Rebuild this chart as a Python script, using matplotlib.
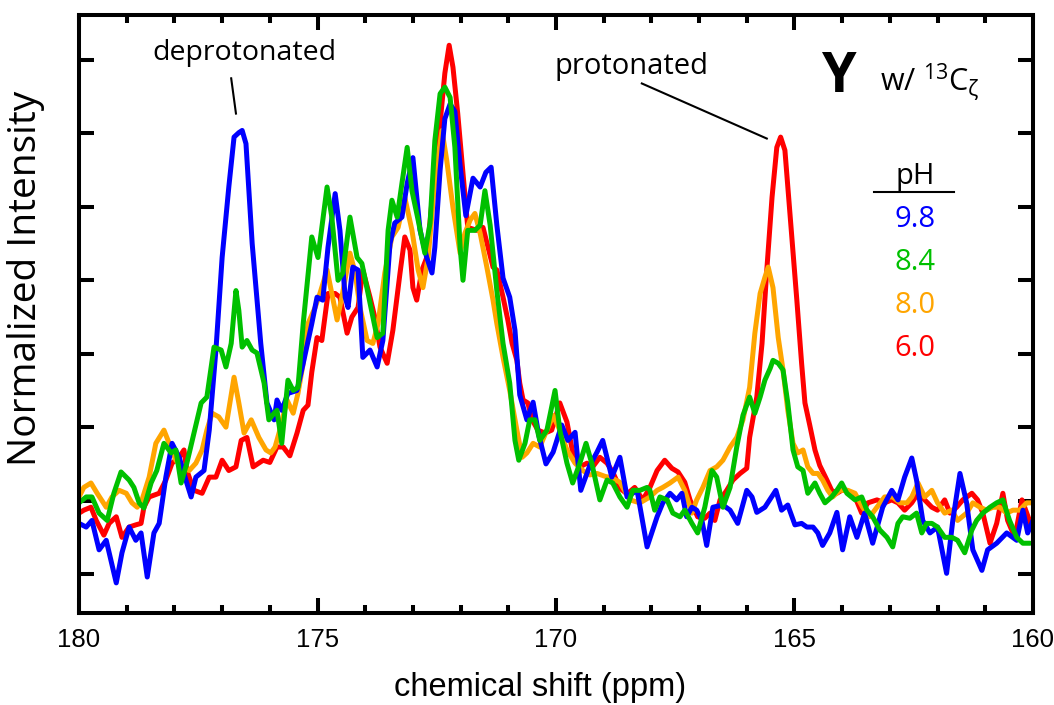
import matplotlib
matplotlib.use('Agg')
import matplotlib.pyplot as plt
from matplotlib import font_manager
from matplotlib.ticker import MultipleLocator

# 폰트 : 좁은 글꼴이 있으면 눈금 글자에 사용
names = {f.name for f in font_manager.fontManager.ttflist}
narrow = 'Liberation Sans Narrow' if 'Liberation Sans Narrow' in names else 'Liberation Sans'
plt.rcParams['font.family'] = ['Open Sans', 'DejaVu Sans']
plt.rcParams['mathtext.fontset'] = 'custom'
plt.rcParams['mathtext.rm'] = 'Open Sans'

# pH 9.8 (blue)
ph98_ppm = [180.00, 179.85, 179.73, 179.58, 179.43, 179.22, 179.10, 178.95, 178.81, 178.70,
            178.57, 178.43, 178.32, 178.18, 178.05, 177.90, 177.76, 177.65, 177.55, 177.38,
            177.27, 177.13, 177.00, 176.86, 176.75, 176.65, 176.58, 176.50, 176.37, 176.19,
            176.06, 175.91, 175.85, 175.75, 175.62, 175.43, 175.30, 175.12, 175.01, 174.89,
            174.78, 174.63, 174.53, 174.42, 174.36, 174.26, 174.15, 174.05, 173.90, 173.75,
            173.63, 173.48, 173.38, 173.23, 173.12, 173.00, 172.85, 172.71, 172.60, 172.54,
            172.43, 172.33, 172.22, 172.12, 172.01, 171.89, 171.74, 171.59, 171.47, 171.36,
            171.24, 171.11, 170.97, 170.86, 170.76, 170.61, 170.48, 170.36, 170.21, 170.06,
            169.88, 169.75, 169.60, 169.48, 169.29, 169.14, 169.02, 168.83, 168.66, 168.51,
            168.30, 168.09, 167.88, 167.76, 167.61, 167.47, 167.36, 167.26, 167.15, 167.05,
            166.94, 166.84, 166.71, 166.50, 166.35, 166.19, 166.00, 165.89, 165.79, 165.62,
            165.39, 165.27, 165.14, 164.99, 164.85, 164.74, 164.61, 164.51, 164.41, 164.26,
            164.11, 163.99, 163.84, 163.69, 163.53, 163.36, 163.15, 162.96, 162.83, 162.69,
            162.54, 162.44, 162.31, 162.16, 162.00, 161.81, 161.68, 161.53, 161.39, 161.26,
            161.07, 160.95, 160.76, 160.55, 160.34, 160.21, 160.11, 160.00]
ph98_int = [0.69, 0.64, 0.73, 0.33, 0.46, -0.12, 0.29, 0.64, 0.46, 0.56,
            -0.04, 0.56, 0.69, 1.32, 1.78, 1.59, 1.28, 1.05, 1.32, 1.41,
            1.96, 3.05, 4.31, 5.27, 5.95, 6.01, 6.04, 5.86, 4.50, 3.14,
            2.33, 2.10, 2.37, 2.23, 2.46, 2.50, 2.87, 3.41, 3.77, 3.73,
            4.45, 5.18, 4.68, 3.77, 3.63, 4.18, 4.14, 2.95, 3.05, 2.82,
            3.18, 4.50, 4.78, 4.86, 5.32, 5.67, 4.68, 4.31, 4.10, 4.45,
            5.50, 6.20, 6.40, 6.30, 5.56, 4.88, 5.39, 5.27, 5.47, 5.54,
            4.75, 4.03, 3.77, 3.32, 2.44, 2.10, 2.34, 1.89, 1.50, 1.66,
            2.03, 1.82, 1.93, 1.14, 1.48, 1.66, 1.82, 1.32, 1.59, 1.05,
            1.14, 0.37, 0.78, 0.97, 1.10, 1.01, 1.10, 0.78, 0.91, 0.87,
            0.73, 0.39, 0.91, 0.94, 0.87, 0.69, 1.14, 1.05, 0.84, 0.91,
            1.14, 0.87, 0.94, 0.67, 0.69, 0.64, 0.64, 0.56, 0.39, 0.56,
            0.84, 0.33, 0.78, 0.50, 0.83, 0.42, 0.91, 1.14, 1.01, 1.32,
            1.58, 1.28, 0.73, 0.56, 0.64, 0.01, 0.73, 1.37, 0.97, 0.33,
            0.05, 0.33, 0.42, 0.56, 0.46, 0.87, 0.56, 0.73]

# pH 6.0 (red)
ph60_ppm = [180.00, 179.90, 179.75, 179.64, 179.48, 179.37, 179.22, 179.10, 178.95, 178.81,
            178.70, 178.64, 178.53, 178.32, 178.18, 178.05, 177.90, 177.80, 177.74, 177.59,
            177.42, 177.27, 177.13, 177.00, 176.86, 176.71, 176.60, 176.48, 176.35, 176.14,
            176.00, 175.85, 175.72, 175.58, 175.43, 175.30, 175.20, 175.12, 175.01, 174.91,
            174.78, 174.63, 174.53, 174.38, 174.28, 174.15, 174.05, 173.90, 173.80, 173.69,
            173.54, 173.42, 173.27, 173.17, 173.06, 173.00, 172.92, 172.81, 172.71, 172.58,
            172.43, 172.33, 172.24, 172.16, 172.06, 171.95, 171.85, 171.66, 171.53, 171.32,
            171.24, 171.11, 171.01, 170.92, 170.82, 170.76, 170.69, 170.59, 170.50, 170.38,
            170.23, 170.09, 169.92, 169.77, 169.65, 169.50, 169.35, 169.23, 169.08, 168.93,
            168.81, 168.66, 168.51, 168.35, 168.18, 168.03, 167.88, 167.72, 167.57, 167.44,
            167.30, 167.19, 167.03, 166.88, 166.77, 166.67, 166.56, 166.42, 166.29, 166.14,
            166.00, 165.94, 165.79, 165.68, 165.58, 165.47, 165.37, 165.29, 165.20, 165.10,
            164.95, 164.85, 164.78, 164.68, 164.57, 164.47, 164.32, 164.22, 164.11, 164.01,
            163.90, 163.73, 163.59, 163.46, 163.27, 163.11, 162.96, 162.83, 162.69, 162.54,
            162.41, 162.27, 162.12, 162.00, 161.85, 161.74, 161.60, 161.47, 161.28, 161.16,
            161.05, 160.90, 160.76, 160.63, 160.53, 160.38, 160.23, 160.13, 160.00]
ph60_int = [0.83, 0.87, 0.91, 0.73, 0.53, 0.69, 0.78, 0.50, 0.64, 0.67,
            0.69, 0.91, 1.05, 1.10, 1.28, 1.51, 1.59, 1.69, 1.41, 1.14,
            1.10, 1.32, 1.32, 1.55, 1.41, 1.46, 1.82, 1.86, 1.46, 1.55,
            1.52, 1.73, 1.73, 1.61, 1.92, 2.23, 2.30, 2.75, 3.22, 3.18,
            3.82, 3.82, 3.77, 3.28, 3.50, 3.63, 4.14, 3.77, 3.50, 3.09,
            2.87, 3.32, 4.10, 4.59, 4.41, 3.90, 3.73, 4.14, 4.31, 5.22,
            6.14, 6.82, 7.20, 6.90, 6.27, 5.46, 4.72, 4.68, 4.72, 4.18,
            4.14, 3.77, 3.46, 3.14, 2.91, 2.60, 2.37, 2.33, 2.10, 1.96,
            1.92, 1.96, 2.33, 2.07, 1.66, 1.46, 1.51, 1.46, 1.59, 1.51,
            1.39, 1.17, 1.09, 1.18, 1.01, 1.18, 1.41, 1.55, 1.44, 1.39,
            1.25, 1.01, 0.78, 0.76, 0.83, 0.73, 1.01, 1.14, 1.28, 1.37,
            1.44, 1.86, 2.41, 3.14, 4.14, 5.13, 5.81, 5.95, 5.77, 4.95,
            3.73, 2.87, 2.33, 2.03, 1.69, 1.48, 1.28, 1.14, 1.10, 1.14,
            1.14, 1.05, 0.83, 0.97, 1.01, 0.97, 1.01, 0.97, 0.87, 0.97,
            1.10, 1.01, 0.91, 0.87, 1.01, 0.83, 0.91, 1.01, 1.10, 1.01,
            0.83, 0.42, 0.69, 1.10, 0.73, 0.50, 1.01, 0.83, 0.60]

# pH 8.0 (orange)
ph80_ppm = [180.00, 179.90, 179.75, 179.62, 179.43, 179.31, 179.16, 179.01, 178.89, 178.78,
            178.68, 178.53, 178.39, 178.22, 178.11, 177.97, 177.84, 177.69, 177.55, 177.42,
            177.32, 177.21, 177.07, 176.92, 176.75, 176.65, 176.54, 176.39, 176.23, 176.08,
            175.98, 175.89, 175.79, 175.64, 175.51, 175.41, 175.30, 175.20, 175.05, 174.95,
            174.80, 174.70, 174.59, 174.49, 174.32, 174.21, 174.11, 173.96, 173.84, 173.73,
            173.59, 173.44, 173.31, 173.17, 173.02, 172.89, 172.79, 172.68, 172.54, 172.39,
            172.29, 172.16, 172.01, 171.91, 171.80, 171.70, 171.59, 171.45, 171.32, 171.24,
            171.11, 170.97, 170.82, 170.71, 170.61, 170.48, 170.34, 170.19, 170.06, 169.92,
            169.77, 169.60, 169.44, 169.29, 169.14, 168.97, 168.83, 168.66, 168.45, 168.24,
            168.03, 167.88, 167.76, 167.61, 167.44, 167.30, 167.15, 167.05, 166.92, 166.77,
            166.63, 166.50, 166.35, 166.21, 166.08, 165.94, 165.83, 165.72, 165.62, 165.55,
            165.45, 165.34, 165.24, 165.14, 165.03, 164.93, 164.82, 164.72, 164.61, 164.51,
            164.41, 164.30, 164.20, 164.05, 163.88, 163.73, 163.57, 163.42, 163.27, 163.11,
            162.94, 162.79, 162.64, 162.54, 162.41, 162.27, 162.12, 162.00, 161.85, 161.70,
            161.58, 161.39, 161.26, 161.11, 160.97, 160.84, 160.70, 160.55, 160.42, 160.28,
            160.13, 160.00]
ph80_int = [1.05, 1.18, 1.24, 1.10, 0.91, 1.05, 1.14, 1.10, 0.97, 0.91,
            1.01, 1.32, 1.78, 1.96, 1.78, 1.55, 1.46, 1.41, 1.51, 1.69,
            1.96, 2.19, 2.14, 2.00, 2.68, 2.33, 1.92, 2.10, 1.86, 1.69,
            1.65, 1.73, 1.96, 2.37, 2.19, 2.46, 2.87, 3.41, 3.63, 3.82,
            4.14, 3.82, 3.46, 3.77, 4.37, 4.10, 3.63, 3.18, 3.14, 3.41,
            4.10, 4.59, 4.72, 5.13, 4.68, 4.14, 3.90, 4.31, 5.36, 6.04,
            5.63, 4.99, 4.37, 4.64, 4.82, 4.91, 4.64, 4.18, 3.73, 3.41,
            2.95, 2.50, 1.96, 1.59, 1.65, 1.78, 1.73, 1.96, 2.16, 1.96,
            1.69, 1.51, 1.41, 1.35, 1.37, 1.33, 1.31, 1.25, 1.01, 0.97,
            1.05, 1.14, 1.18, 1.24, 1.32, 1.14, 0.83, 1.01, 1.18, 1.41,
            1.46, 1.55, 1.73, 1.86, 2.10, 2.54, 3.28, 3.82, 4.04, 4.18,
            3.90, 3.22, 2.78, 2.23, 1.78, 1.65, 1.69, 1.46, 1.37, 1.37,
            1.28, 1.14, 1.05, 1.14, 1.14, 1.10, 0.91, 0.78, 0.91, 1.05,
            1.05, 0.97, 0.97, 1.05, 1.24, 1.05, 1.14, 0.97, 0.83, 0.87,
            0.73, 0.83, 0.97, 0.91, 0.87, 0.91, 0.91, 0.83, 0.87, 0.87,
            0.97, 0.97]

# pH 8.4 (green)
ph84_ppm = [180.00, 179.85, 179.73, 179.58, 179.41, 179.27, 179.12, 178.95, 178.85, 178.74,
            178.64, 178.49, 178.37, 178.22, 178.07, 177.97, 177.86, 177.74, 177.59, 177.44,
            177.32, 177.17, 177.02, 176.92, 176.81, 176.71, 176.65, 176.58, 176.48, 176.37,
            176.27, 176.12, 176.02, 175.91, 175.85, 175.75, 175.62, 175.51, 175.41, 175.30,
            175.12, 174.99, 174.80, 174.70, 174.57, 174.47, 174.32, 174.17, 174.07, 173.90,
            173.75, 173.63, 173.52, 173.44, 173.33, 173.23, 173.12, 173.02, 172.89, 172.75,
            172.64, 172.54, 172.43, 172.33, 172.22, 172.12, 172.01, 171.95, 171.85, 171.70,
            171.59, 171.49, 171.38, 171.24, 171.11, 170.97, 170.86, 170.78, 170.65, 170.55,
            170.44, 170.34, 170.19, 170.02, 169.92, 169.77, 169.65, 169.50, 169.37, 169.25,
            169.08, 168.93, 168.81, 168.66, 168.51, 168.39, 168.24, 168.09, 168.03, 167.93,
            167.82, 167.67, 167.55, 167.40, 167.30, 167.15, 167.03, 166.88, 166.73, 166.63,
            166.50, 166.35, 166.21, 166.08, 165.94, 165.83, 165.72, 165.62, 165.51, 165.45,
            165.34, 165.24, 165.14, 165.03, 164.93, 164.82, 164.72, 164.57, 164.47, 164.36,
            164.22, 164.11, 164.01, 163.90, 163.73, 163.59, 163.48, 163.36, 163.21, 163.06,
            162.94, 162.83, 162.73, 162.58, 162.44, 162.33, 162.23, 162.12, 162.00, 161.85,
            161.70, 161.58, 161.43, 161.28, 161.18, 161.05, 160.90, 160.76, 160.63, 160.49,
            160.34, 160.21, 160.06]
ph84_int = [0.97, 1.05, 1.05, 0.83, 0.73, 1.10, 1.39, 1.28, 1.18, 0.97,
            0.90, 1.24, 1.41, 1.78, 1.65, 1.69, 1.24, 1.51, 1.92, 2.33,
            2.41, 3.09, 3.05, 2.82, 3.14, 3.86, 3.59, 3.09, 3.18, 3.05,
            3.01, 2.60, 2.10, 2.19, 2.23, 1.78, 2.64, 2.50, 2.54, 3.41,
            4.59, 4.31, 5.27, 4.86, 4.00, 4.10, 4.86, 4.31, 4.23, 3.69,
            3.22, 3.28, 4.68, 5.09, 4.86, 5.32, 5.81, 5.22, 4.82, 4.37,
            4.78, 5.90, 6.54, 6.63, 6.49, 5.81, 4.45, 4.00, 4.68, 4.68,
            4.75, 5.22, 4.75, 3.86, 3.14, 2.60, 1.82, 1.55, 1.78, 2.10,
            2.10, 1.82, 1.96, 2.50, 1.96, 1.51, 1.24, 1.51, 1.78, 1.51,
            1.01, 1.28, 1.24, 1.05, 0.91, 1.14, 1.14, 1.18, 1.14, 0.87,
            1.05, 1.01, 0.83, 0.78, 0.87, 0.69, 0.56, 0.91, 1.41, 1.32,
            0.91, 1.18, 1.73, 2.16, 2.41, 2.19, 2.41, 2.64, 2.80, 2.91,
            2.87, 2.78, 2.33, 1.69, 1.46, 1.41, 1.10, 1.24, 1.10, 0.97,
            1.05, 1.14, 1.24, 1.10, 1.01, 1.05, 0.87, 0.78, 0.60, 0.50,
            0.37, 0.69, 0.78, 0.76, 0.83, 0.56, 0.69, 0.69, 0.64, 0.50,
            0.50, 0.46, 0.29, 0.60, 0.73, 0.83, 0.91, 0.97, 1.01, 0.73,
            0.50, 0.42, 0.42]

series = [('6.0', ph60_ppm, ph60_int, '#ff0000'),
          ('8.0', ph80_ppm, ph80_int, '#ffa500'),
          ('9.8', ph98_ppm, ph98_int, '#0000ff'),
          ('8.4', ph84_ppm, ph84_int, '#00c000')]
legend_order = ['9.8', '8.4', '8.0', '6.0']
legend_colors = {'9.8': '#0000ff', '8.4': '#00c000', '8.0': '#ffa500', '6.0': '#ff0000'}

fig = plt.figure(figsize=(10.54, 7.05), dpi=100)
ax = fig.add_axes([0.075, 0.1305, 0.905, 0.848])

for name, x, y, c in series:
    ax.plot(x, y, color=c, lw=3.6, solid_joinstyle='round', solid_capstyle='round')

ax.set_xlim(180, 160)
ax.set_ylim(-0.53, 7.61)
ax.xaxis.set_major_locator(MultipleLocator(5))
ax.xaxis.set_minor_locator(MultipleLocator(1))
ax.set_yticks(range(0, 8))
ax.tick_params(which='both', direction='in', top=True, right=True, width=2.9)
ax.tick_params(which='major', length=11)
ax.tick_params(which='minor', length=6)
ax.tick_params(axis='y', labelleft=False, length=11)
ax.tick_params(axis='x', which='major', pad=11, labelsize=18.5)
for lab in ax.get_xticklabels():
    lab.set_family([narrow, 'DejaVu Sans'])
for s in ax.spines.values():
    s.set_linewidth(2.9)

ax.set_xlabel('chemical shift (ppm)', fontsize=23.5, family=[narrow, 'DejaVu Sans'])
ax.xaxis.set_label_coords(0.483, -0.098)
ax.set_ylabel('Normalized Intensity', fontsize=28)
ax.yaxis.set_label_coords(-0.036, 0.56)

# 주석
ax.text(176.54, 7.10, 'deprotonated', fontsize=20.5, ha='center', va='center')
ax.plot([176.81, 176.71], [6.75, 6.27], color='black', lw=1.5)
ax.text(168.41, 6.91, 'protonated', fontsize=21, ha='center', va='center')
ax.plot([168.20, 165.58], [6.68, 5.93], color='black', lw=1.5)

ax.text(164.09, 6.76, 'Y', fontsize=40, fontweight='bold', ha='center', va='center')
ax.text(163.21, 6.69, r'w/ $^{\mathrm{13}}$C$_{\mathrm{ζ}}$', fontsize=22, ha='left', va='center')

# pH 범례
ax.text(162.47, 5.41, 'pH', fontsize=21, ha='center', va='center')
ax.plot([163.33, 161.66], [5.20, 5.20], color='black', lw=1.5)
for i, name in enumerate(legend_order):
    ax.text(162.47, 4.83 - 0.585 * i, name, fontsize=21, color=legend_colors[name],
            ha='center', va='center')

fig.savefig('out.png', dpi=100)
